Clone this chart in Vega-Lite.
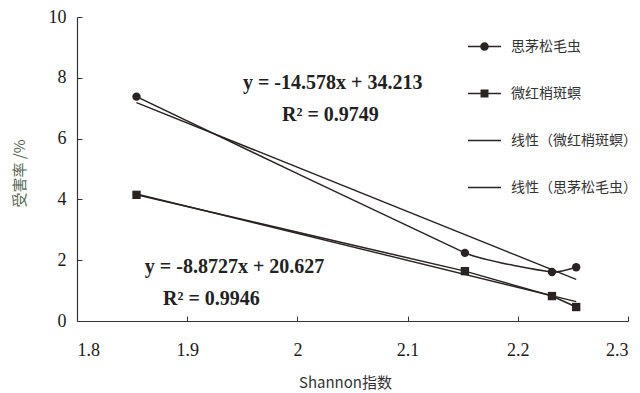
{
  "$schema": "https://vega.github.io/schema/vega-lite/v6.json",
  "autosize": {"type": "none"},
  "width": 551,
  "height": 304,
  "padding": {"left": 77, "top": 17, "right": 12, "bottom": 72},
  "background": "#ffffff",
  "config": {
    "view": {"stroke": null},
    "axis": {
      "grid": false,
      "domainColor": "#333333",
      "domainWidth": 1.2,
      "tickColor": "#333333",
      "labelColor": "#1a1a1a",
      "labelFont": "Liberation Serif",
      "labelFontSize": 18,
      "titleColor": "#333333",
      "titleFontWeight": "normal"
    },
    "legend": {
      "labelFont": "Noto Sans CJK SC",
      "labelFontSize": 14,
      "labelColor": "#333333",
      "symbolOpacity": 1,
      "symbolFillColor": "#2b2222",
      "symbolStrokeColor": "transparent"
    }
  },
  "datasets": {
    "pts": [
      {"series": "思茅松毛虫", "x": 1.854, "y": 7.38},
      {"series": "思茅松毛虫", "x": 2.152, "y": 2.24},
      {"series": "思茅松毛虫", "x": 2.231, "y": 1.61},
      {"series": "思茅松毛虫", "x": 2.253, "y": 1.77},
      {"series": "微红梢斑螟", "x": 1.854, "y": 4.15},
      {"series": "微红梢斑螟", "x": 2.152, "y": 1.64},
      {"series": "微红梢斑螟", "x": 2.231, "y": 0.82},
      {"series": "微红梢斑螟", "x": 2.253, "y": 0.46}
    ],
    "trend": [
      {"series": "线性（思茅松毛虫）", "x": 1.854, "y": 7.185},
      {"series": "线性（思茅松毛虫）", "x": 2.253, "y": 1.369},
      {"series": "线性（微红梢斑螟）", "x": 1.854, "y": 4.177},
      {"series": "线性（微红梢斑螟）", "x": 2.253, "y": 0.637}
    ],
    "eq": [
      {"label": "y = -14.578x + 34.213", "x": 2.032, "y": 7.83},
      {"label": "R² = 0.9749", "x": 2.03, "y": 6.76},
      {"label": "y = -8.8727x + 20.627", "x": 1.943, "y": 1.78},
      {"label": "R² = 0.9946", "x": 1.922, "y": 0.74}
    ]
  },
  "encoding": {
    "x": {
      "field": "x", "type": "quantitative",
      "scale": {"domain": [1.8, 2.3], "nice": false, "zero": false},
      "axis": {
        "values": [1.8, 1.9, 2.0, 2.1, 2.2, 2.3],
        "format": "~g",
        "tickSize": -5,
        "labelPadding": 25,
        "title": "Shannon指数",
        "titleFont": "Noto Sans CJK SC",
        "titleFontSize": 15,
        "titleX": 268,
        "titleY": 61,
        "titleBaseline": "middle",
        "titleAlign": "center"
      }
    },
    "y": {
      "field": "y", "type": "quantitative",
      "scale": {"domain": [0, 10], "nice": false},
      "axis": {
        "values": [0, 2, 4, 6, 8, 10],
        "format": "d",
        "tickSize": -5,
        "labelPadding": 16,
        "title": "受害率 /%",
        "titleFont": "Noto Sans CJK SC",
        "titleFontSize": 15,
        "titleColor": "#556655",
        "titleX": -58,
        "titleY": 156,
        "titleAngle": -90,
        "titleBaseline": "middle",
        "titleAlign": "center"
      }
    }
  },
  "layer": [
    {
      "data": {"name": "pts"},
      "transform": [{"filter": "datum.series === '思茅松毛虫'"}],
      "mark": {"type": "line", "interpolate": "cardinal", "tension": 0.7, "color": "#2b2222", "strokeWidth": 1.5}
    },
    {
      "data": {"name": "pts"},
      "transform": [{"filter": "datum.series === '微红梢斑螟'"}],
      "mark": {"type": "line", "color": "#2b2222", "strokeWidth": 1.5}
    },
    {
      "data": {"name": "trend"},
      "mark": {"type": "line", "color": "#2b2222", "strokeWidth": 1.4},
      "encoding": {"detail": {"field": "series"}}
    },
    {
      "data": {"name": "pts"},
      "transform": [{"filter": "datum.series === '思茅松毛虫'"}],
      "mark": {"type": "circle", "size": 70, "color": "#2b2222", "opacity": 1}
    },
    {
      "data": {"name": "pts"},
      "transform": [{"filter": "datum.series === '微红梢斑螟'"}],
      "mark": {"type": "square", "size": 70, "color": "#2b2222", "opacity": 1}
    },
    {
      "data": {"name": "eq"},
      "mark": {"type": "text", "font": "Liberation Serif", "fontSize": 20, "fontWeight": "bold", "color": "#222222", "align": "center", "baseline": "middle"},
      "encoding": {"text": {"field": "label"}}
    },
    {
      "data": {"name": "pts"},
      "mark": {"type": "point", "opacity": 0, "filled": true, "color": "#2b2222"},
      "encoding": {
        "shape": {
          "field": "series", "type": "nominal",
          "scale": {
            "domain": ["思茅松毛虫", "微红梢斑螟", "线性（微红梢斑螟）", "线性（思茅松毛虫）"],
            "range": [
              "M0.26,0A0.26,0.26,0,1,1,-0.26,0A0.26,0.26,0,1,1,0.26,0ZM-1,-0.045L-0.25,-0.045L-0.25,0.045L-1,0.045ZM0.25,-0.045L1,-0.045L1,0.045L0.25,0.045Z",
              "M-0.24,-0.24L0.24,-0.24L0.24,0.24L-0.24,0.24ZM-1,-0.045L-0.24,-0.045L-0.24,0.045L-1,0.045ZM0.24,-0.045L1,-0.045L1,0.045L0.24,0.045Z",
              "M-1,-0.045L1,-0.045L1,0.045L-1,0.045Z",
              "M-1,-0.045L1,-0.045L1,0.045L-1,0.045Z"
            ]
          },
          "legend": {
            "title": null,
            "orient": "none",
            "legendX": 390,
            "legendY": 12,
            "symbolSize": 1089,
            "rowPadding": 22,
            "labelOffset": 9
          }
        }
      }
    }
  ]
}
